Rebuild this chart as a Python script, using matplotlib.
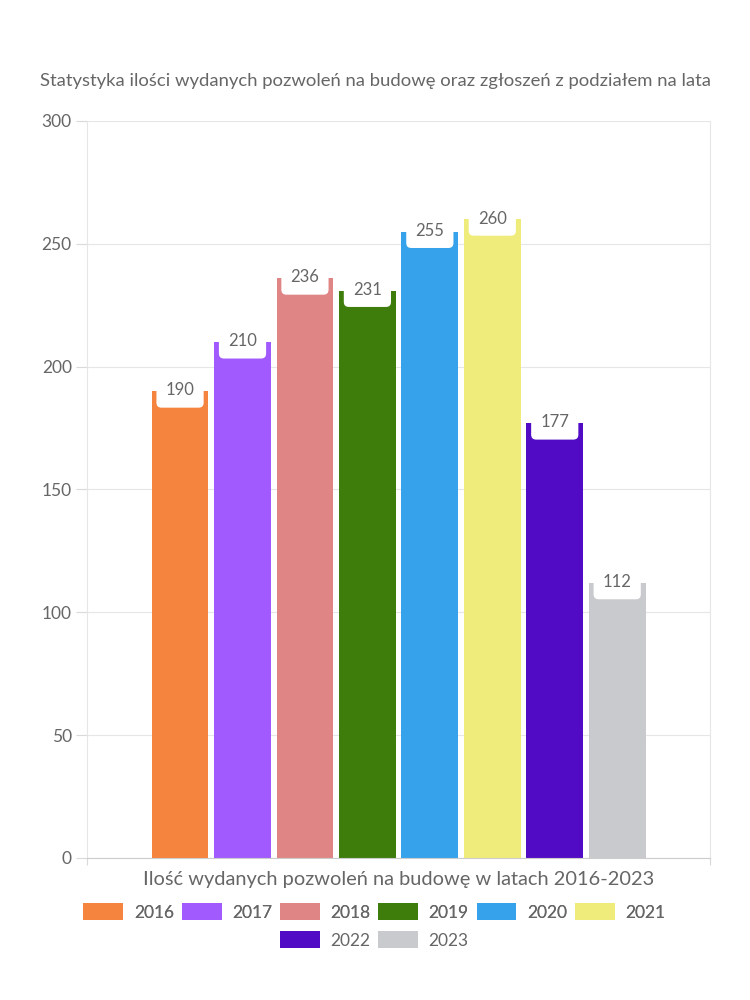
import matplotlib
matplotlib.use("Agg")
import matplotlib.pyplot as plt
from matplotlib.patches import Patch

plt.rcParams['font.family'] = ['Lato', 'DejaVu Sans']

years = ['2016', '2017', '2018', '2019', '2020', '2021', '2022', '2023']
values = [190, 210, 236, 231, 255, 260, 177, 112]
colors = ['#F5843F', '#A05AFD', '#E08585', '#3E7D0C', '#36A2EB', '#F0EC7C', '#510BC4', '#C9CACE']
title = 'Statystyka ilości wydanych pozwoleń na budowę oraz zgłoszeń z podziałem na lata'
xlabel = 'Ilość wydanych pozwoleń na budowę w latach 2016-2023'
yticks = [0, 50, 100, 150, 200, 250, 300]

TXT = '#666666'
fig = plt.figure(figsize=(7.5, 10), dpi=100)
ax = fig.add_axes([0.116, 0.142, 0.831, 0.737])

x = list(range(len(years)))
ax.bar(x, values, width=0.91, color=colors, zorder=2)
for xi, v in zip(x, values):
    ax.text(xi, v + 0.3, str(v), ha='center', va='center', fontsize=12, color=TXT, zorder=3,
            bbox=dict(boxstyle='round,pad=0.55,rounding_size=0.3', fc='white', ec='none'))

ax.set_xlim(-1.49, 8.49)
ax.set_ylim(0, 300)
ax.set_yticks(yticks)
ax.set_yticklabels([str(t) for t in yticks])
ax.set_xticks([-1.49, 8.49])
ax.set_xticklabels(['', ''])
ax.tick_params(axis='y', length=8, width=0.8, color='#d9d9d9', labelsize=12.5, labelcolor=TXT, pad=3)
ax.tick_params(axis='x', length=5, width=0.8, color='#d9d9d9')
ax.grid(axis='y', color='#e6e6e6', linewidth=0.8, zorder=0)
for s in ['left', 'right', 'top']:
    ax.spines[s].set_color('#e6e6e6')
    ax.spines[s].set_linewidth(0.8)
ax.spines['top'].set_visible(False)
ax.spines['bottom'].set_color('#cccccc')
ax.spines['bottom'].set_linewidth(0.8)

fig.text(0.5, 0.919, title, ha='center', va='center', fontsize=13.3, color=TXT)
fig.text(0.532, 0.120, xlabel, ha='center', va='center', fontsize=14.4, color=TXT)

handles = [Patch(facecolor=c, edgecolor='none') for c in colors]
common = dict(frameon=False, fontsize=12.5, handlelength=2.3, handleheight=1.1,
              columnspacing=0.45, handletextpad=0.6, labelcolor=TXT, borderpad=0.0)
leg1 = fig.legend(handles[:6], years[:6], loc='center', bbox_to_anchor=(0.499, 0.088), ncol=6, **common)
leg2 = fig.legend(handles[6:], years[6:], loc='center', bbox_to_anchor=(0.499, 0.060), ncol=2, **common)
fig.add_artist(leg1)

fig.savefig('out.png', dpi=100, facecolor='white')
